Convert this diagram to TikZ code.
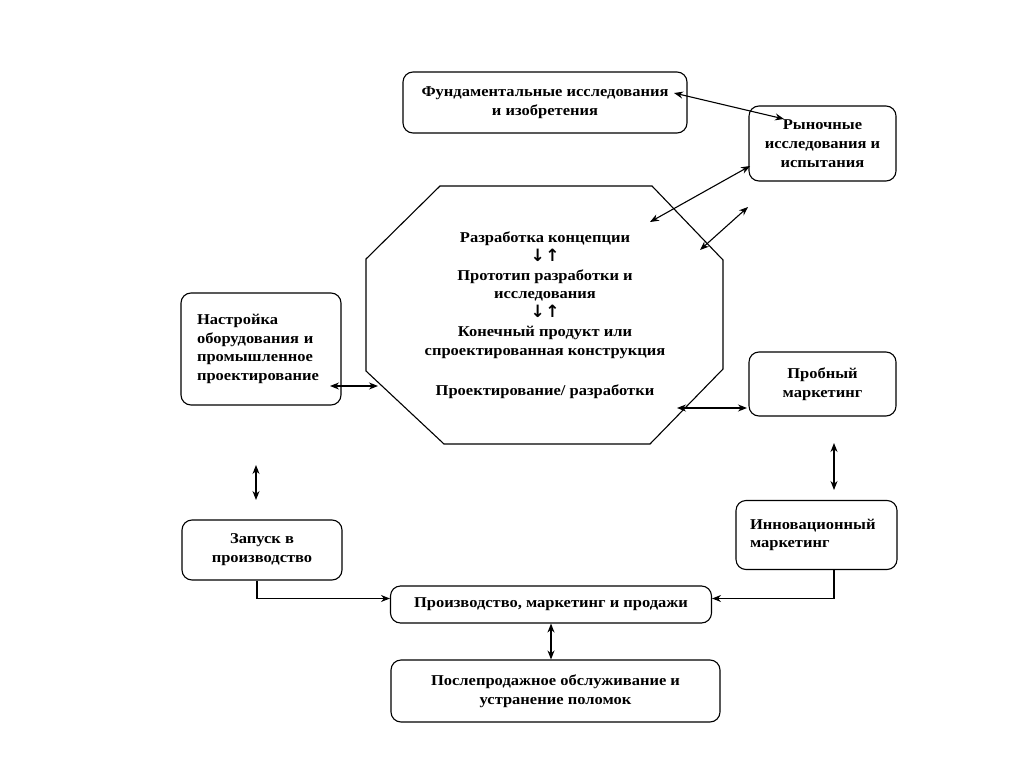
\documentclass[tikz,border=0pt]{standalone}
\usepackage{fontspec}
\setmainfont{Liberation Serif}[FakeStretch=1.1]
\newfontfamily\arrowfont{DejaVu Sans}
\usetikzlibrary{arrows.meta}
\newcommand{\diagfont}{\bfseries\fontsize{15}{18.8}\selectfont}
\newcommand{\updn}{{\arrowfont\fontsize{17}{18.8}\selectfont ↓\kern0.5pt↑}}
\begin{document}
\begin{tikzpicture}[x=1pt,y=-1pt,
  box/.style={draw, rounded corners=10pt, line width=1.1pt, font=\diagfont, align=center, inner sep=0pt},
  dbl/.style={{Stealth[length=9pt,width=7pt]}-{Stealth[length=9pt,width=7pt]}, line width=1.1pt},
  one/.style={-{Stealth[length=9pt,width=7pt]}, line width=1.1pt}]
\useasboundingbox (0,0) rectangle (1024,767);
\fill[white] (0,0) rectangle (1024,767);

% boxes
\node[box, minimum width=284pt, minimum height=61pt] (fund) at (545,102.5)
  {Фундаментальные исследования\\и изобретения};
\node[box, minimum width=147pt, minimum height=75pt] (market) at (822.5,143.5)
  {Рыночные\\исследования и\\испытания};
\node[box, minimum width=160pt, minimum height=112pt, text width=128pt, align=left] (setup) at (261,349)
  {Настройка\\оборудования и\\промышленное\\проектирование};
\node[box, minimum width=160pt, minimum height=60pt] (launch) at (262,550)
  {Запуск в\\производство};
\node[box, minimum width=321pt, minimum height=37pt] (prod) at (551,604.5)
  {Производство, маркетинг и продажи};
\node[box, minimum width=329pt, minimum height=62pt] (after) at (555.5,691)
  {Послепродажное обслуживание и\\устранение поломок};
\node[box, minimum width=147pt, minimum height=64pt] (trial) at (822.5,384)
  {Пробный\\маркетинг};
\node[box, minimum width=161pt, minimum height=69pt, text width=133pt, align=left] (innov) at (816.5,535)
  {Инновационный\\маркетинг};

% octagon
\draw[line width=1.1pt] (440,186) -- (652,186) -- (723,260) -- (723,369) -- (650,444)
  -- (444,444) -- (366,371) -- (366,259) -- cycle;
\node[font=\diagfont, align=center] (core) at (545,315)
  {Разработка концепции\\\updn\\Прототип разработки и\\исследования\\\updn\\Конечный продукт или\\спроектированная конструкция\\[21pt]Проектирование/ разработки};

% free ends of connectors
\coordinate (f1) at (674,93);
\coordinate (m1) at (784,119);
\coordinate (o1) at (650,222);
\coordinate (m2) at (750,166);
\coordinate (o2) at (700,250);
\coordinate (m3) at (748,207);
\coordinate (s1) at (330,386);
\coordinate (o3) at (378,386);
\coordinate (o4) at (677,408);
\coordinate (t1) at (747,408);
\coordinate (v1) at (256,465);
\coordinate (v2) at (256,500);
\coordinate (w1) at (834,443);
\coordinate (w2) at (834,490);

% connectors
\draw[dbl] (f1) -- (m1);
\draw[dbl] (o1) -- (m2);
\draw[dbl] (o2) -- (m3);
\draw[dbl] (s1) -- (o3);
\draw[dbl] (o4) -- (t1);
\draw[dbl] (v1) -- (v2);
\draw[dbl] (w1) -- (w2);
\draw[dbl] (prod.south) -- (prod.south |- after.north);
\draw[one] ([xshift=-5pt]launch.south) |- ([yshift=6pt]prod.west);
\draw[one] ([xshift=17.5pt]innov.south) |- ([yshift=6pt]prod.east);
\end{tikzpicture}
\end{document}
